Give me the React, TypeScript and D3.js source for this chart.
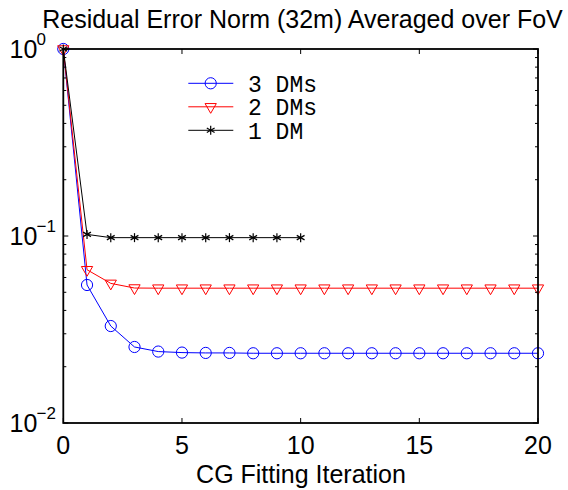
import React from 'react';
import * as d3 from 'd3';

const xTicks = [0, 5, 10, 15, 20];
const yMajorTicks = [1, 0.1, 0.01];
const yTickExponents = ['0', '\u22121', '\u22122'];

const iters3 = [0, 1, 2, 3, 4, 5, 6, 7, 8, 9, 10, 11, 12, 13, 14, 15, 16, 17, 18, 19, 20];
const dm3 = [1.0, 0.0547, 0.033, 0.0255, 0.0241, 0.0238, 0.0237, 0.0237, 0.0236, 0.0236, 0.0236, 0.0236, 0.0236, 0.0236, 0.0236, 0.0236, 0.0236, 0.0236, 0.0236, 0.0236, 0.0236];
const iters2 = [0, 1, 2, 3, 4, 5, 6, 7, 8, 9, 10, 11, 12, 13, 14, 15, 16, 17, 18, 19, 20];
const dm2 = [1.0, 0.066, 0.0558, 0.0527, 0.0526, 0.0526, 0.0526, 0.0526, 0.0526, 0.0526, 0.0526, 0.0526, 0.0526, 0.0526, 0.0526, 0.0526, 0.0526, 0.0526, 0.0526, 0.0526, 0.0526];
const iters1 = [0, 1, 2, 3, 4, 5, 6, 7, 8, 9, 10];
const dm1 = [1.0, 0.102, 0.098, 0.098, 0.098, 0.098, 0.098, 0.098, 0.098, 0.098, 0.098];

const seriesNames = ['3 DMs', '2 DMs', '1 DM'];

const W = 568, H = 490;
const L = 63.3, R = 538, T = 49, B = 423;
const FONT = 'Liberation Sans, Arial, Helvetica, sans-serif';

function Marker({ kind, x, y, color }: { kind: string; x: number; y: number; color: string }) {
  if (kind === 'o') return <circle cx={x} cy={y} r={5.6} fill="none" stroke={color} strokeWidth={1} />;
  if (kind === 'v') {
    const r = 6.5;
    const pts = [[x - r * 0.866, y - r / 2], [x + r * 0.866, y - r / 2], [x, y + r]];
    return <polygon points={pts.map(p => p.join(',')).join(' ')} fill="none" stroke={color} strokeWidth={1} />;
  }
  const s = 4.5;
  const c = Math.cos(Math.PI / 6) * s, d = Math.sin(Math.PI / 6) * s;
  return (
    <g stroke={color} strokeWidth={1.2}>
      <line x1={x} y1={y - s} x2={x} y2={y + s} />
      <line x1={x - c} y1={y - d} x2={x + c} y2={y + d} />
      <line x1={x - c} y1={y + d} x2={x + c} y2={y - d} />
    </g>
  );
}

export default function App() {
  const xs = d3.scaleLinear().domain([0, 20]).range([L, R]);
  const ys = d3.scaleLog().domain([0.01, 1]).range([B, T]);
  const line = d3.line<[number, number]>().x(d => xs(d[0])).y(d => ys(d[1]));

  const series = [
    { name: seriesNames[0], xs: iters3, ys: dm3, color: '#0000ff', kind: 'o' },
    { name: seriesNames[1], xs: iters2, ys: dm2, color: '#ff0000', kind: 'v' },
    { name: seriesNames[2], xs: iters1, ys: dm1, color: '#000000', kind: '*' },
  ];

  const minor: number[] = [];
  [0.01, 0.1].forEach(base => { for (let k = 2; k <= 9; k++) minor.push(base * k); });

  return (
    <svg width={W} height={H} style={{ position: 'absolute', left: 0, top: 0, background: '#fff' }} fontFamily={FONT}>
      <rect x={0} y={0} width={W} height={H} fill="#fff" />
      {series.map(s => {
        const pts = s.xs.map((x, i) => [x, s.ys[i]] as [number, number]);
        return (
          <g key={s.name}>
            <path d={line(pts) || ''} fill="none" stroke={s.color} strokeWidth={1} />
            {pts.map((p, i) => <Marker key={i} kind={s.kind} x={xs(p[0])} y={ys(p[1])} color={s.color} />)}
          </g>
        );
      })}
      <rect x={L} y={T} width={R - L} height={B - T} fill="none" stroke="#000" strokeWidth={1.8} />
      {xTicks.map(t => (
        <g key={'x' + t}>
          <line x1={xs(t)} x2={xs(t)} y1={B} y2={B - 5} stroke="#000" strokeWidth={1} />
          <line x1={xs(t)} x2={xs(t)} y1={T} y2={T + 5} stroke="#000" strokeWidth={1} />
          <text x={xs(t)} y={454} fontSize={25} textAnchor="middle" fill="#000">{t}</text>
        </g>
      ))}
      {yMajorTicks.map((t, i) => (
        <g key={'y' + t}>
          <line x1={L} x2={L + 5} y1={ys(t)} y2={ys(t)} stroke="#000" strokeWidth={1} />
          <line x1={R} x2={R - 5} y1={ys(t)} y2={ys(t)} stroke="#000" strokeWidth={1} />
          <text x={9.5} y={ys(t) + 9} fontSize={25} fill="#000">10</text>
          <text x={36.5} y={ys(t) - 4} fontSize={17} fill="#000">{yTickExponents[i]}</text>
        </g>
      ))}
      {minor.map(t => (
        <g key={'m' + t}>
          <line x1={L} x2={L + 3} y1={ys(t)} y2={ys(t)} stroke="#000" strokeWidth={1} />
          <line x1={R} x2={R - 3} y1={ys(t)} y2={ys(t)} stroke="#000" strokeWidth={1} />
        </g>
      ))}
      <text x={302.5} y={28} fontSize={25} textAnchor="middle" fill="#000">Residual Error Norm (32m) Averaged over FoV</text>
      <text x={301} y={483} fontSize={25} textAnchor="middle" fill="#000">CG Fitting Iteration</text>
      {series.map((s, i) => {
        const ly = 83.3 + i * 23.5;
        return (
          <g key={'lg' + s.name}>
            <line x1={188.3} x2={233.3} y1={ly} y2={ly} stroke={s.color} strokeWidth={1} />
            <Marker kind={s.kind} x={210.7} y={ly} color={s.color} />
            <text x={248} y={ly + 8.5} fontSize={23} fontFamily="Liberation Mono, Courier New, monospace" fill="#000">{s.name}</text>
          </g>
        );
      })}
    </svg>
  );
}
